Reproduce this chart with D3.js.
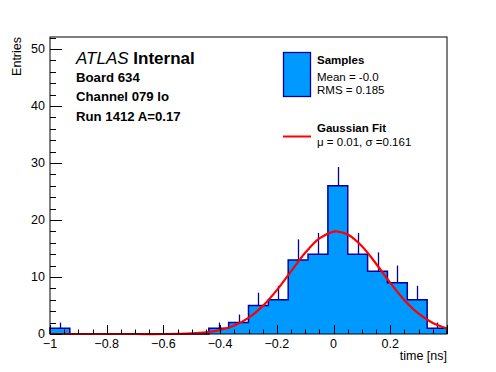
<!DOCTYPE html>
<html>
<head>
<meta charset="utf-8">
<script src="https://cdn.jsdelivr.net/npm/d3@7"></script>
<style>
html,body{margin:0;padding:0;background:#fff;}
svg{display:block;font-family:"Liberation Sans",Arial,Helvetica,sans-serif;}
</style>
</head>
<body>
<svg id="chart" width="496" height="372"></svg>
<script>
// ---- data ----
const binEdges = [-1,-0.93,-0.86,-0.79,-0.72,-0.65,-0.58,-0.51,-0.44,-0.37,-0.30,-0.23,-0.16,-0.09,-0.02,0.05,0.12,0.19,0.26,0.33,0.40];
const counts   = [1,0,0,0,0,0,0,0,1,2,5,6,13,14,26,14,11,9,6,1];
const errors   = [1,0,0,0,0,0,0,0,1,1.41,2.24,2.45,3.6,3.74,3.3,3.74,3.32,3,2.45,1];
const fitX = [-1,-0.9,-0.8,-0.7,-0.6,-0.5,-0.45,-0.4,-0.35,-0.3,-0.25,-0.2,-0.15,-0.1,-0.05,0,0.01,0.05,0.1,0.15,0.2,0.25,0.3,0.35,0.4];
const fitY = [0,0,0,0,0,0.12,0.30,0.70,1.48,2.82,4.89,7.69,10.99,14.25,16.79,17.97,18,17.45,15.40,12.33,8.97,5.93,3.56,1.94,0.96];
const xTicks = [-1,-0.8,-0.6,-0.4,-0.2,0,0.2];
const yTicks = [0,10,20,30,40,50];
const xDomain = [-1,0.4];
const yDomain = [0,52.1];
const infoLines = ["Board 634","Channel 079 lo","Run 1412 A=0.17"];
const legendSamples = ["Samples","Mean = -0.0","RMS = 0.185"];
const legendFit = ["Gaussian Fit","\u03bc = 0.01, \u03c3 =0.161"];

// ---- layout ----
const L = 50, R = 447, T = 37, B = 334;
const svg = d3.select("#chart");
const x = d3.scaleLinear().domain(xDomain).range([L, R]);
const y = d3.scaleLinear().domain(yDomain).range([B, T]);

const fillC = "#0099ff", lineC = "#000099";

// histogram fill + step outline
const pts = [];
pts.push([x(binEdges[0]), y(0)]);
counts.forEach((c,i)=>{
  pts.push([x(binEdges[i]), y(c)]);
  pts.push([x(binEdges[i+1]), y(c)]);
});
pts.push([x(binEdges[binEdges.length-1]), y(0)]);
svg.append("path").attr("d", d3.line()(pts) + "Z")
  .attr("fill", fillC).attr("stroke", "none");
svg.append("path").attr("d", d3.line()(pts))
  .attr("fill", "none").attr("stroke", lineC).attr("stroke-width", 1.5);

// error bars (upper part visible)
counts.forEach((c,i)=>{
  if (errors[i] <= 0) return;
  const cx = Math.round(x((binEdges[i]+binEdges[i+1])/2)) + 0.5;
  svg.append("line").attr("x1", cx).attr("x2", cx)
    .attr("y1", y(c)).attr("y2", y(c+errors[i]))
    .attr("stroke", lineC).attr("stroke-width", 1.3);
});

// gaussian fit curve
svg.append("path")
  .datum(fitX.map((v,i)=>[v, fitY[i]]))
  .attr("d", d3.line().x(d=>x(d[0])).y(d=>y(d[1])).curve(d3.curveCatmullRom))
  .attr("fill","none").attr("stroke","#ff0000").attr("stroke-width",2.2);

// frame
svg.append("rect").attr("x", L).attr("y", T).attr("width", R-L).attr("height", B-T)
  .attr("fill","none").attr("stroke","#000").attr("stroke-width",1);

// x axis ticks (inside, pointing up)
const fmt = v => (v===0 ? "0" : (v<0 ? "\u2212" : "") + String(Math.abs(v)));
const xMinor = d3.range(-1, 0.4001, 0.05);
xMinor.forEach(v=>{
  const isMajor = Math.abs(Math.round(v/0.2)*0.2 - v) < 1e-6;
  const px = Math.round(x(v)) + 0.5;
  svg.append("line").attr("x1",px).attr("x2",px).attr("y1",B).attr("y2",B-(isMajor?9:4.5))
    .attr("stroke","#000").attr("stroke-width",1);
});
const gx = svg.append("g").attr("font-size", 12.5);
xTicks.forEach(v=>{
  gx.append("text").attr("x", x(v)).attr("y", B+14).attr("text-anchor","middle")
    .text(fmt(v));
});
svg.append("text").attr("x", R).attr("y", B+26).attr("text-anchor","end")
  .attr("font-size",12.5).text("time [ns]");

// y axis ticks (inside, pointing right)
d3.range(0, 52.01, 2).forEach(v=>{
  const isMajor = v % 10 === 0;
  const py = Math.round(y(v)) + 0.5;
  svg.append("line").attr("x1",L).attr("x2",L+(isMajor?12:6)).attr("y1",py).attr("y2",py)
    .attr("stroke","#000").attr("stroke-width",1);
});
const gy = svg.append("g").attr("font-size", 12.5);
yTicks.forEach(v=>{
  gy.append("text").attr("x", L-5).attr("y", y(v)+(v===0?3.5:4.5)).attr("text-anchor","end").text(v);
});
svg.append("text").attr("transform","translate(21,"+T+") rotate(-90)")
  .attr("text-anchor","end").attr("font-size",12.5).text("Entries");

// ATLAS label + info
const atl = svg.append("text").attr("x", 76).attr("y", 63.5).attr("font-size", 17);
atl.append("tspan").attr("font-style","italic").text("ATLAS");
atl.append("tspan").attr("font-weight","bold").text(" Internal");
infoLines.forEach((t,i)=>{
  svg.append("text").attr("x",76).attr("y", 81.7 + i*19.5).attr("font-size",13.2)
    .attr("font-weight","bold").text(t);
});

// legend
svg.append("rect").attr("x",283.5).attr("y",52.5).attr("width",27).attr("height",44)
  .attr("fill",fillC).attr("stroke",lineC).attr("stroke-width",1.3);
svg.append("text").attr("x",317).attr("y",64).attr("font-size",11.5).attr("font-weight","bold").text(legendSamples[0]);
svg.append("text").attr("x",317).attr("y",81).attr("font-size",11.5).text(legendSamples[1]);
svg.append("text").attr("x",317).attr("y",94).attr("font-size",11.5).text(legendSamples[2]);
svg.append("line").attr("x1",283).attr("x2",311).attr("y1",136.5).attr("y2",136.5)
  .attr("stroke","#ff0000").attr("stroke-width",2);
svg.append("text").attr("x",317).attr("y",132).attr("font-size",11.5).attr("font-weight","bold").text(legendFit[0]);
svg.append("text").attr("x",317).attr("y",146).attr("font-size",11.5).text(legendFit[1]);
</script>
</body>
</html>
